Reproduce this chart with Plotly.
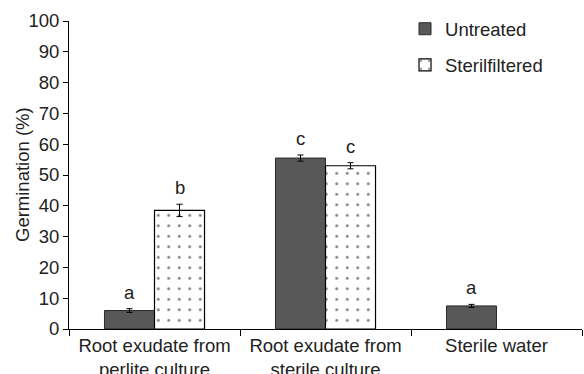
import plotly.graph_objects as go

categories = ["Root exudate from<br>perlite culture", "Root exudate from<br>sterile culture", "Sterile water"]
untreated = [6.0, 55.5, 7.5]
untreated_err = [0.6, 1.0, 0.5]
sterilfiltered = [38.5, 53.0, None]
sterilfiltered_err = [2.0, 1.0, None]
letters_untreated = ["a", "c", "a"]
letters_steril = ["b", "c", ""]
y_ticks = list(range(0, 101, 10))

FONT = "Liberation Sans, Arial, sans-serif"
FS = 18.5
BARGAP = 0.415

fig = go.Figure()
fig.add_trace(go.Bar(
    name="Untreated", x=categories, y=untreated,
    marker=dict(color="#585858", line=dict(color="#2a2a2a", width=1)),
    error_y=dict(type="data", array=untreated_err, color="black", thickness=1, width=3),
    legendgroup="u",
))
fig.add_trace(go.Bar(
    name="Sterilfiltered", x=categories, y=sterilfiltered,
    marker=dict(color="white", line=dict(color="black", width=1.2),
                pattern=dict(shape=".", fgcolor="black", bgcolor="white", size=10.5, solidity=0.06)),
    error_y=dict(type="data", array=sterilfiltered_err, color="black", thickness=1, width=3),
    legendgroup="s",
))

half = (1 - BARGAP) / 4
for i in range(len(categories)):
    for vals, errs, labs, sign in ((untreated, untreated_err, letters_untreated, -1),
                                   (sterilfiltered, sterilfiltered_err, letters_steril, 1)):
        if vals[i] is None or not labs[i]:
            continue
        fig.add_annotation(x=i + sign * half, y=vals[i] + errs[i], xref="x", yref="y",
                           text=labs[i], showarrow=False, yanchor="bottom", yshift=4,
                           font=dict(family=FONT, size=FS, color="#222"))

fig.add_annotation(x=-(69 - 22) / 513, y=0.5, xref="paper", yref="paper",
                   text="Germination (%)", textangle=-90, showarrow=False,
                   xanchor="center", yanchor="middle",
                   font=dict(family=FONT, size=FS, color="#222"))

fig.update_layout(
    width=584, height=374,
    margin=dict(l=69, r=2, t=21, b=45),
    paper_bgcolor="white", plot_bgcolor="white",
    barmode="group", bargap=BARGAP, bargroupgap=0,
    font=dict(family=FONT, size=FS, color="#222"),
    showlegend=True,
    legend=dict(x=0.655, y=1.035, xanchor="left", yanchor="top", traceorder="grouped",
                tracegroupgap=9, font=dict(family=FONT, size=FS, color="#222"),
                bgcolor="rgba(0,0,0,0)"),
)
fig.update_xaxes(
    type="category", range=[-0.5, 2.5], showline=True, linecolor="black", linewidth=1,
    ticks="outside", tickson="boundaries", ticklen=6, tickcolor="black",
    tickfont=dict(family=FONT, size=FS, color="#222"), showgrid=False, automargin=False,
)
fig.update_yaxes(
    range=[0, 100], tickvals=y_ticks, showline=True, linecolor="black", linewidth=1,
    ticks="outside", ticklen=5, tickcolor="black", showgrid=False, zeroline=False,
    tickfont=dict(family=FONT, size=FS, color="#222"),
    automargin=False,
)

fig.write_html("out.html", config={"displayModeBar": False},
               post_script="document.body.style.margin='0';")
